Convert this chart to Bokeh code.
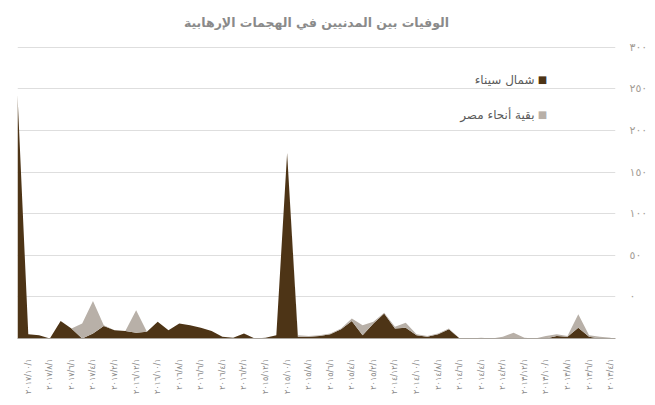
import math
from bokeh.plotting import figure
from bokeh.models import FixedTicker, Range1d, ColumnDataSource, Label
from bokeh.embed import file_html
from bokeh.resources import INLINE

# ---------------- data (display order: newest on the left, as the chart reads right-to-left) ----
title_text = "الوفيات بين المدنيين في الهجمات الإرهابية"
series_names = ["شمال سيناء", "بقية أنحاء مصر"]

# monthly civilian deaths, Nov 2017 (left) ... Apr 2013 (right)
north_sinai = [293, 5, 4, 0, 21, 12, 0, 6, 15, 10,
               9, 7, 8, 20, 10, 18, 16, 13, 9, 2,
               1, 6, 0, 1, 4, 223, 2, 2, 3, 5,
               11, 21, 4, 18, 30, 12, 13, 4, 2, 5,
               11, 0, 0, 0, 0, 0, 0, 0, 0, 0,
               3, 2, 13, 2, 0, 0]
rest_of_egypt = [0, 0, 0, 0, 0, 0, 18, 39, 1, 0,
                 0, 27, 0, 0, 0, 0, 0, 0, 0, 0,
                 0, 0, 0, 0, 0, 0, 2, 1, 1, 1,
                 1, 3, 12, 2, 1, 2, 6, 1, 1, 1,
                 1, 0, 0, 1, 0, 2, 7, 1, 0, 3,
                 2, 1, 16, 2, 2, 1]

# x tick labels (every second month, starting with Oct 2017)
tick_labels = ["٢٠١٧/١٠/١", "٢٠١٧/٨/١", "٢٠١٧/٦/١", "٢٠١٧/٤/١", "٢٠١٧/٢/١",
               "٢٠١٦/١٢/١", "٢٠١٦/١٠/١", "٢٠١٦/٨/١", "٢٠١٦/٦/١", "٢٠١٦/٤/١",
               "٢٠١٦/٢/١", "٢٠١٥/١٢/١", "٢٠١٥/١٠/١", "٢٠١٥/٨/١", "٢٠١٥/٦/١",
               "٢٠١٥/٤/١", "٢٠١٥/٢/١", "٢٠١٤/١٢/١", "٢٠١٤/١٠/١", "٢٠١٤/٨/١",
               "٢٠١٤/٦/١", "٢٠١٤/٤/١", "٢٠١٤/٢/١", "٢٠١٣/١٢/١", "٢٠١٣/١٠/١",
               "٢٠١٣/٨/١", "٢٠١٣/٦/١", "٢٠١٣/٤/١"]

# y gridlines and the labels printed beside them in the reference
y_tick_values = [50, 100, 150, 200, 250, 300, 350]
y_tick_labels = ["٠", "٥٠", "١٠٠", "١٥٠", "٢٠٠", "٢٥٠", "٣٠٠"]

# ---------------- styling ----------------
DARK = "#4d3416"
LIGHT = "#b8b0a8"
ARABIC_FONT = "DejaVu Sans"

x = list(range(len(north_sinai)))
source = ColumnDataSource(dict(x=x, sinai=north_sinai, rest=rest_of_egypt))

p = figure(width=650, height=400, output_backend="svg", toolbar_location=None,
           x_range=Range1d(0, len(x) - 1 + 0.45), y_range=Range1d(0, 357),
           y_axis_location="right",
           min_border_left=17, min_border_right=33, min_border_top=40, min_border_bottom=62)

p.varea_stack(stackers=["sinai", "rest"], x="x", color=[DARK, LIGHT], source=source)

# title
p.title.text = title_text
p.title.align = "center"
p.title.text_font = ARABIC_FONT
p.title.text_font_size = "12.5px"
p.title.text_color = "#8a8a8a"
p.title.text_font_style = "bold"
p.title.standoff = 24

# x axis
tick_pos = list(range(1, len(x), 2))
p.xaxis.ticker = FixedTicker(ticks=tick_pos)
p.xaxis.major_label_overrides = {t: l for t, l in zip(tick_pos, tick_labels)}
p.xaxis.major_label_orientation = math.pi / 2
p.xaxis.major_label_text_font = ARABIC_FONT
p.xaxis.major_label_text_font_size = "8px"
p.xaxis.major_label_text_color = "#8a8a8a"
p.xaxis.major_label_standoff = 14
p.xaxis.axis_line_color = "#aaa59e"
p.xaxis.major_tick_line_color = None
p.xaxis.minor_tick_line_color = None

# y axis
p.yaxis.ticker = FixedTicker(ticks=y_tick_values)
p.yaxis.major_label_overrides = {v: l for v, l in zip(y_tick_values, y_tick_labels)}
p.yaxis.major_label_text_font = ARABIC_FONT
p.yaxis.major_label_text_font_size = "11px"
p.yaxis.major_label_text_color = "#a39d96"
p.yaxis.major_label_standoff = 8
p.yaxis.axis_line_color = None
p.yaxis.major_tick_line_color = None
p.yaxis.minor_tick_line_color = None

p.xgrid.grid_line_color = None
p.ygrid.grid_line_color = "#dedede"
p.outline_line_color = None
p.background_fill_color = "white"

# legend (right-to-left: swatch on the right of the text)
for name, col, yy in [(series_names[0], DARK, 259), (series_names[1], LIGHT, 224)]:
    p.add_layout(Label(x=517, y=yy, x_units="screen", y_units="screen", text=name,
                       text_align="right", text_baseline="middle",
                       text_font=ARABIC_FONT, text_font_size="12px", text_color="#5a5a5a"))
    p.add_layout(Label(x=525, y=yy, x_units="screen", y_units="screen", text="■",
                       text_align="center", text_baseline="middle",
                       text_font=ARABIC_FONT, text_font_size="10px", text_color=col))

open("out.html", "w").write(file_html(p, INLINE))
